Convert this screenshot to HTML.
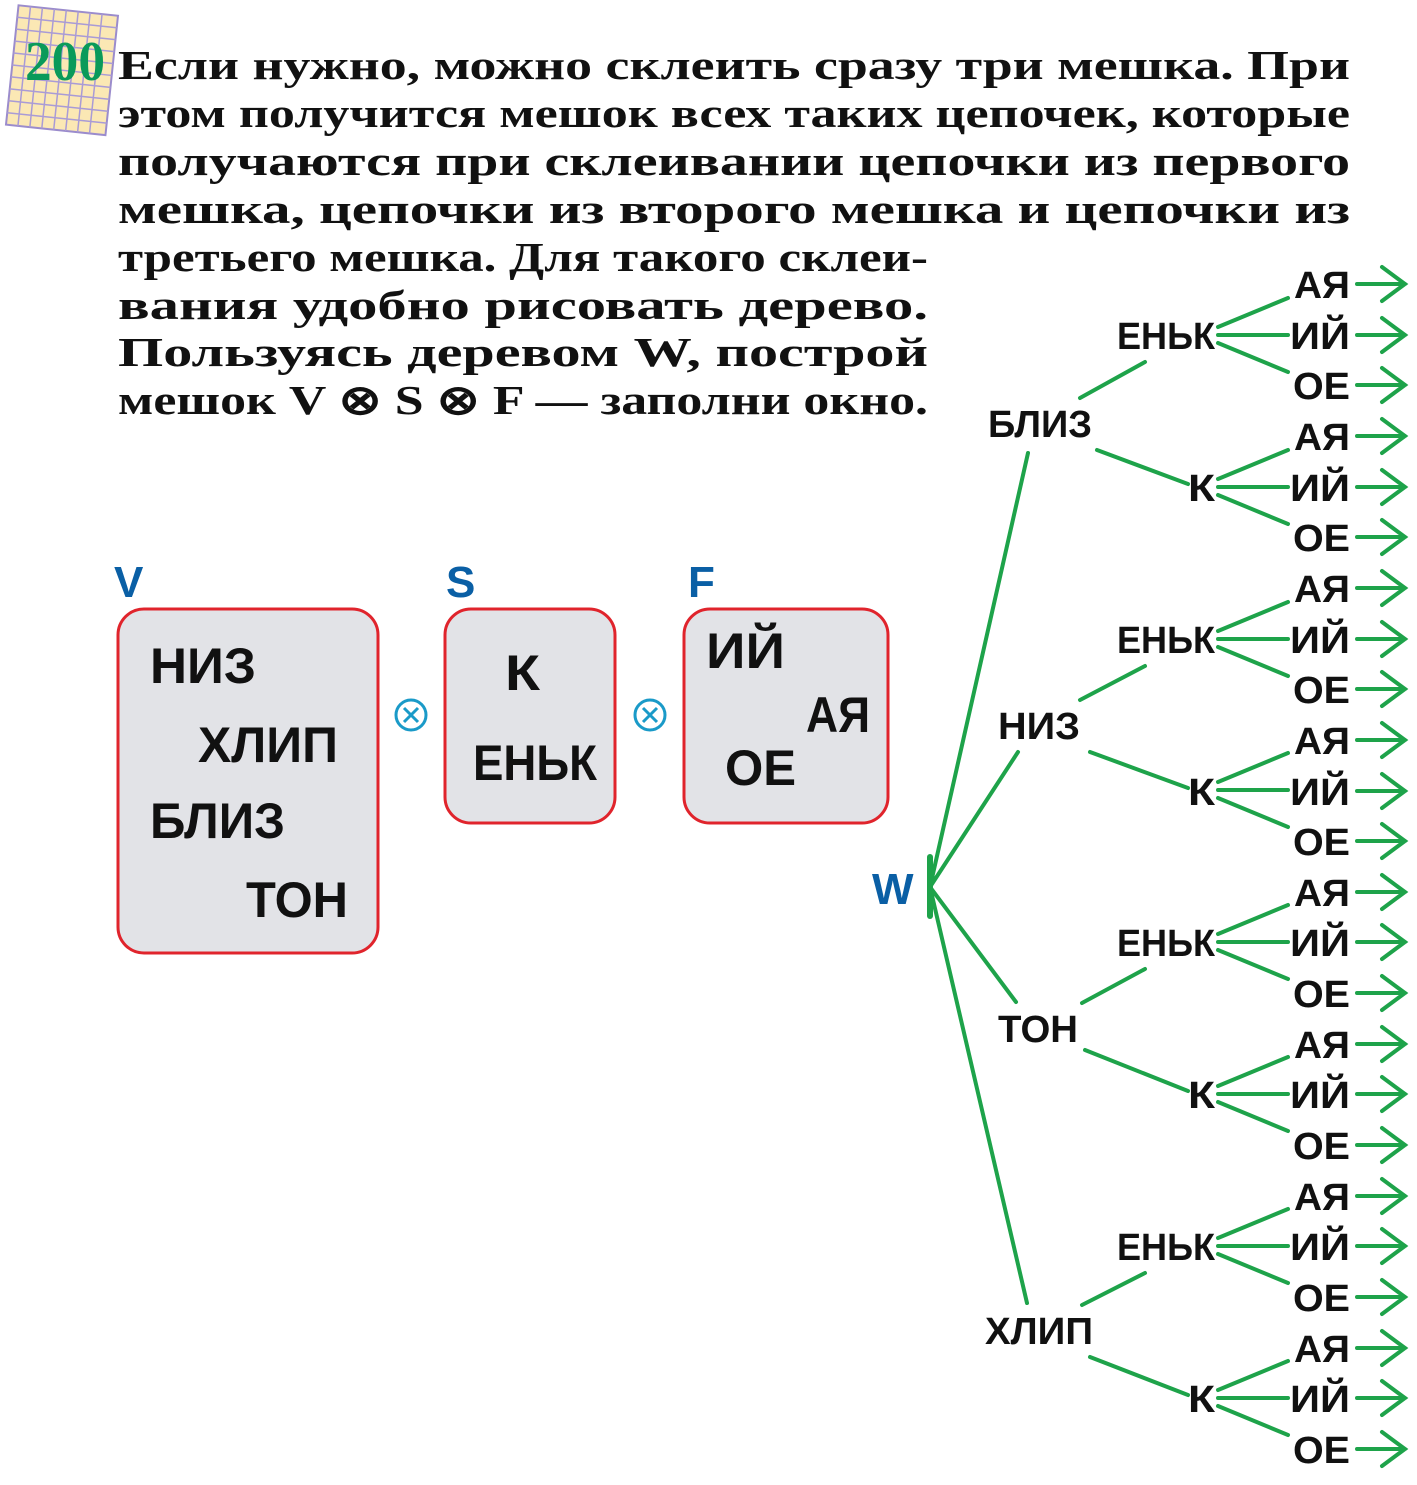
<!DOCTYPE html>
<html><head><meta charset="utf-8"><style>
html,body{margin:0;padding:0;background:#fff;}
svg{display:block;}
.p{font-family:"Liberation Serif",serif;font-weight:bold;font-size:41px;fill:#111;}
.b{font-family:"Liberation Sans",sans-serif;font-weight:bold;font-size:50px;fill:#111;}
.t{font-family:"Liberation Sans",sans-serif;font-weight:bold;font-size:38px;fill:#111;}
.l{font-family:"Liberation Sans",sans-serif;font-weight:bold;font-size:44px;fill:#0a5fa5;}
</style></head><body>
<svg width="1417" height="1485" viewBox="0 0 1417 1485" xmlns="http://www.w3.org/2000/svg">
<g transform="rotate(6 60 70)">
<rect x="12" y="10" width="100" height="120" fill="#fbe8b4" stroke="#9b8ccc" stroke-width="2"/>
<path d="M12 22H112M12 34H112M12 46H112M12 58H112M12 70H112M12 82H112M12 94H112M12 106H112M12 118H112M24 10V130M36 10V130M48 10V130M60 10V130M72 10V130M84 10V130M96 10V130" stroke="#a99bd6" stroke-width="1.5"/>
</g>
<text x="25" y="80" font-family="Liberation Serif,serif" font-weight="bold" font-size="56" fill="#0a9a5a" textLength="80" lengthAdjust="spacingAndGlyphs">200</text>
<text class="p" x="118" y="79" textLength="1232" lengthAdjust="spacingAndGlyphs">Если нужно, можно склеить сразу три мешка. При</text>
<text class="p" x="118" y="127" textLength="1232" lengthAdjust="spacingAndGlyphs">этом получится мешок всех таких цепочек, которые</text>
<text class="p" x="118" y="175" textLength="1232" lengthAdjust="spacingAndGlyphs">получаются при склеивании цепочки из первого</text>
<text class="p" x="118" y="223" textLength="1232" lengthAdjust="spacingAndGlyphs">мешка, цепочки из второго мешка и цепочки из</text>
<text class="p" x="118" y="271" textLength="810" lengthAdjust="spacingAndGlyphs">третьего мешка. Для такого склеи-</text>
<text class="p" x="118" y="319" textLength="810" lengthAdjust="spacingAndGlyphs">вания удобно рисовать дерево.</text>
<text class="p" x="118" y="366" textLength="810" lengthAdjust="spacingAndGlyphs">Пользуясь деревом W, построй</text>
<text class="p" x="118" y="414" textLength="810" lengthAdjust="spacingAndGlyphs">мешок V ⊗ S ⊗ F — заполни окно.</text>
<text class="l" x="114" y="597">V</text>
<text class="l" x="446" y="597">S</text>
<text class="l" x="688" y="597">F</text>
<rect x="118" y="609" width="260" height="344" rx="26" fill="#e2e3e7" stroke="#e0242c" stroke-width="3"/>
<rect x="445" y="609" width="170" height="214" rx="26" fill="#e2e3e7" stroke="#e0242c" stroke-width="3"/>
<rect x="684" y="609" width="204" height="214" rx="26" fill="#e2e3e7" stroke="#e0242c" stroke-width="3"/>
<g stroke="#1a9ac8" stroke-width="3" fill="none">
<circle cx="411" cy="715" r="15"/><path d="M404 708L418 722M418 708L404 722"/>
<circle cx="650" cy="715" r="15"/><path d="M643 708L657 722M657 708L643 722"/>
</g>
<text class="b" x="150" y="683" textLength="106" lengthAdjust="spacingAndGlyphs">НИЗ</text>
<text class="b" x="198" y="762" textLength="140" lengthAdjust="spacingAndGlyphs">ХЛИП</text>
<text class="b" x="150" y="838" textLength="135" lengthAdjust="spacingAndGlyphs">БЛИЗ</text>
<text class="b" x="246" y="917" textLength="102" lengthAdjust="spacingAndGlyphs">ТОН</text>
<text class="b" x="505" y="690" textLength="35" lengthAdjust="spacingAndGlyphs">К</text>
<text class="b" x="473" y="780" textLength="124" lengthAdjust="spacingAndGlyphs">ЕНЬК</text>
<text class="b" x="706" y="668" textLength="79" lengthAdjust="spacingAndGlyphs">ИЙ</text>
<text class="b" x="806" y="732" textLength="64" lengthAdjust="spacingAndGlyphs">АЯ</text>
<text class="b" x="725" y="785" textLength="71" lengthAdjust="spacingAndGlyphs">ОЕ</text>
<text class="l" x="872" y="904">W</text>
<g stroke="#1ea34a" stroke-width="4" fill="none" stroke-linecap="round">
<path d="M930 857V916" stroke-width="6"/>
<path d="M930 887L1028 453M930 887L1018 752M930 887L1016 1002M930 887L1027 1303"/>
<path d="M1080 398L1145 362M1097 450L1188 484"/>
<path d="M1080 700L1145 666M1090 752L1188 788"/>
<path d="M1082 1003L1145 969M1085 1050L1188 1091"/>
<path d="M1082 1305L1145 1273M1090 1357L1188 1395"/>
<path d="M1218 327L1288 298M1218 335H1288M1218 343L1288 372"/>
<path d="M1218 479L1288 450M1218 487H1288M1218 495L1288 524"/>
<path d="M1218 631L1288 602M1218 639H1288M1218 647L1288 676"/>
<path d="M1218 782L1288 753M1218 790H1288M1218 798L1288 827"/>
<path d="M1218 934L1288 905M1218 942H1288M1218 950L1288 979"/>
<path d="M1218 1086L1288 1057M1218 1094H1288M1218 1102L1288 1131"/>
<path d="M1218 1238L1288 1209M1218 1246H1288M1218 1254L1288 1283"/>
<path d="M1218 1390L1288 1361M1218 1398H1288M1218 1406L1288 1435"/>
<path d="M1357 284H1405M1382 267L1405 284L1382 301M1357 335H1405M1382 318L1405 335L1382 352M1357 385H1405M1382 368L1405 385L1382 402M1357 436H1405M1382 419L1405 436L1382 453M1357 487H1405M1382 470L1405 487L1382 504M1357 537H1405M1382 520L1405 537L1382 554M1357 588H1405M1382 571L1405 588L1382 605M1357 639H1405M1382 622L1405 639L1382 656M1357 689H1405M1382 672L1405 689L1382 706M1357 740H1405M1382 723L1405 740L1382 757M1357 791H1405M1382 774L1405 791L1382 808M1357 841H1405M1382 824L1405 841L1382 858M1357 892H1405M1382 875L1405 892L1382 909M1357 942H1405M1382 925L1405 942L1382 959M1357 993H1405M1382 976L1405 993L1382 1010M1357 1044H1405M1382 1027L1405 1044L1382 1061M1357 1094H1405M1382 1077L1405 1094L1382 1111M1357 1145H1405M1382 1128L1405 1145L1382 1162M1357 1196H1405M1382 1179L1405 1196L1382 1213M1357 1246H1405M1382 1229L1405 1246L1382 1263M1357 1297H1405M1382 1280L1405 1297L1382 1314M1357 1348H1405M1382 1331L1405 1348L1382 1365M1357 1398H1405M1382 1381L1405 1398L1382 1415M1357 1449H1405M1382 1432L1405 1449L1382 1466"/>
</g>
<text class="t" x="988" y="437" textLength="104" lengthAdjust="spacingAndGlyphs">БЛИЗ</text>
<text class="t" x="998" y="739" textLength="82" lengthAdjust="spacingAndGlyphs">НИЗ</text>
<text class="t" x="998" y="1042" textLength="80" lengthAdjust="spacingAndGlyphs">ТОН</text>
<text class="t" x="985" y="1344" textLength="108" lengthAdjust="spacingAndGlyphs">ХЛИП</text>
<g class="t">
<text x="1117" y="349" textLength="98" lengthAdjust="spacingAndGlyphs">ЕНЬК</text>
<text x="1188" y="501" textLength="27" lengthAdjust="spacingAndGlyphs">К</text>
<text x="1117" y="653" textLength="98" lengthAdjust="spacingAndGlyphs">ЕНЬК</text>
<text x="1188" y="805" textLength="27" lengthAdjust="spacingAndGlyphs">К</text>
<text x="1117" y="956" textLength="98" lengthAdjust="spacingAndGlyphs">ЕНЬК</text>
<text x="1188" y="1108" textLength="27" lengthAdjust="spacingAndGlyphs">К</text>
<text x="1117" y="1260" textLength="98" lengthAdjust="spacingAndGlyphs">ЕНЬК</text>
<text x="1188" y="1412" textLength="27" lengthAdjust="spacingAndGlyphs">К</text>
</g>
<g class="t">
<text x="1294" y="298" textLength="56" lengthAdjust="spacingAndGlyphs">АЯ</text>
<text x="1290" y="349" textLength="60" lengthAdjust="spacingAndGlyphs">ИЙ</text>
<text x="1293" y="399" textLength="57" lengthAdjust="spacingAndGlyphs">ОЕ</text>
<text x="1294" y="450" textLength="56" lengthAdjust="spacingAndGlyphs">АЯ</text>
<text x="1290" y="501" textLength="60" lengthAdjust="spacingAndGlyphs">ИЙ</text>
<text x="1293" y="551" textLength="57" lengthAdjust="spacingAndGlyphs">ОЕ</text>
<text x="1294" y="602" textLength="56" lengthAdjust="spacingAndGlyphs">АЯ</text>
<text x="1290" y="653" textLength="60" lengthAdjust="spacingAndGlyphs">ИЙ</text>
<text x="1293" y="703" textLength="57" lengthAdjust="spacingAndGlyphs">ОЕ</text>
<text x="1294" y="754" textLength="56" lengthAdjust="spacingAndGlyphs">АЯ</text>
<text x="1290" y="805" textLength="60" lengthAdjust="spacingAndGlyphs">ИЙ</text>
<text x="1293" y="855" textLength="57" lengthAdjust="spacingAndGlyphs">ОЕ</text>
<text x="1294" y="906" textLength="56" lengthAdjust="spacingAndGlyphs">АЯ</text>
<text x="1290" y="956" textLength="60" lengthAdjust="spacingAndGlyphs">ИЙ</text>
<text x="1293" y="1007" textLength="57" lengthAdjust="spacingAndGlyphs">ОЕ</text>
<text x="1294" y="1058" textLength="56" lengthAdjust="spacingAndGlyphs">АЯ</text>
<text x="1290" y="1108" textLength="60" lengthAdjust="spacingAndGlyphs">ИЙ</text>
<text x="1293" y="1159" textLength="57" lengthAdjust="spacingAndGlyphs">ОЕ</text>
<text x="1294" y="1210" textLength="56" lengthAdjust="spacingAndGlyphs">АЯ</text>
<text x="1290" y="1260" textLength="60" lengthAdjust="spacingAndGlyphs">ИЙ</text>
<text x="1293" y="1311" textLength="57" lengthAdjust="spacingAndGlyphs">ОЕ</text>
<text x="1294" y="1362" textLength="56" lengthAdjust="spacingAndGlyphs">АЯ</text>
<text x="1290" y="1412" textLength="60" lengthAdjust="spacingAndGlyphs">ИЙ</text>
<text x="1293" y="1463" textLength="57" lengthAdjust="spacingAndGlyphs">ОЕ</text>
</g>
</svg>
</body></html>
